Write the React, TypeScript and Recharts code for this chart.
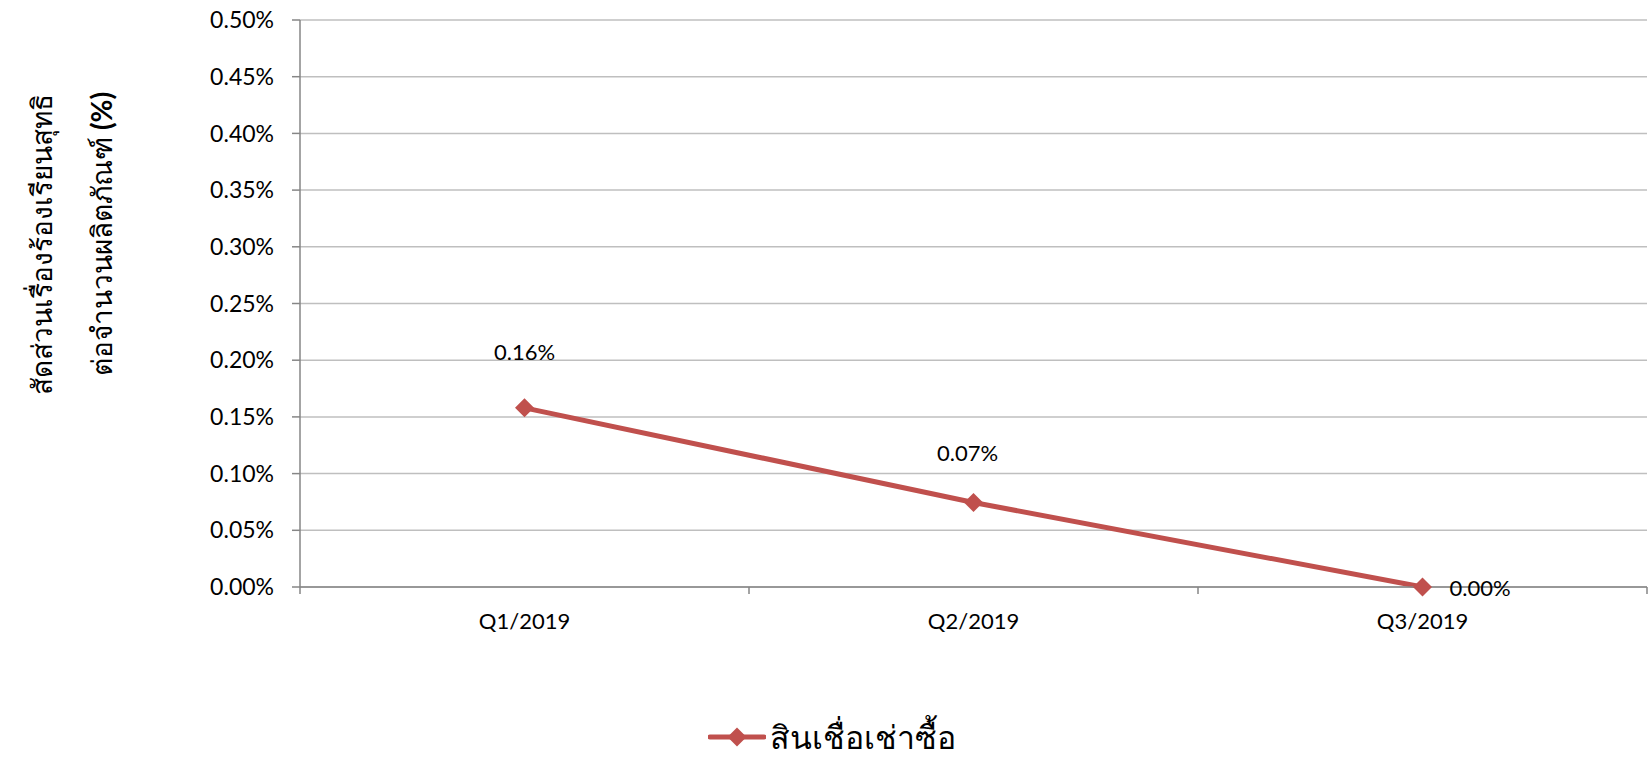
import React from 'react';
import { CartesianGrid, LabelList, Legend, Line, LineChart, XAxis, YAxis } from 'recharts';

const quarters = ['Q1/2019', 'Q2/2019', 'Q3/2019'];
const ratioValues = [0.00158, 0.000745, 0];
const valueLabels = ['0.16%', '0.07%', '0.00%'];
const yTicks = [0, 0.0005, 0.001, 0.0015, 0.002, 0.0025, 0.003, 0.0035, 0.004, 0.0045, 0.005];
const seriesName = 'สินเชื่อเช่าซื้อ';
const titleLine1 = 'สัดส่วนเรื่องร้องเรียนสุทธิ';
const titleLine2 = 'ต่อจำนวนผลิตภัณฑ์';

const W = 1651;
const H = 767;
const RED = '#C0504D';
const AXIS = '#868686';
const GRID = '#BFBFBF';
const FONT = "Lato, 'Open Sans', sans-serif";

// label placement relative to each point (Excel put them by hand)
const labelOffsets = [
  { dx: 0, dy: -56, anchor: 'middle' },
  { dx: -6, dy: -50, anchor: 'middle' },
  { dx: 27, dy: 0, anchor: 'start' },
];

const data = quarters.map((q, i) => ({
  pos: i + 0.5,
  quarter: q,
  value: ratioValues[i],
  label: valueLabels[i],
}));

const xTicks = [0, 0.5, 1, 1.5, 2, 2.5, 3];

const XTick = (props: any) => {
  const { x, y, payload } = props;
  const v = payload.value;
  if (Number.isInteger(v)) {
    return <line x1={x} y1={y} x2={x} y2={y + 7} stroke={AXIS} strokeWidth={1.5} />;
  }
  return (
    <text x={x} y={y + 42} textAnchor="middle" fontSize={22} fontFamily={FONT} fill="#000">
      {quarters[Math.floor(v)]}
    </text>
  );
};

const Diamond = (props: any) => {
  const { cx, cy } = props;
  if (cx == null || cy == null) return null;
  const r = 9.5;
  return (
    <polygon
      points={`${cx},${cy - r} ${cx + r},${cy} ${cx},${cy + r} ${cx - r},${cy}`}
      fill={RED}
    />
  );
};

const PointLabel = (props: any) => {
  const { x, y, index, value } = props;
  const o = labelOffsets[index] || labelOffsets[0];
  return (
    <text
      x={x + o.dx}
      y={y + o.dy}
      textAnchor={o.anchor}
      dominantBaseline="central"
      fontSize={22}
      fontFamily={FONT}
      fill="#000"
    >
      {value}
    </text>
  );
};

const LegendBox = () => (
  <div style={{ display: 'flex', justifyContent: 'center', alignItems: 'center' }}>
    <svg width={58} height={24} style={{ marginRight: 4 }}>
      <line x1={2} y1={12} x2={56} y2={12} stroke={RED} strokeWidth={5} strokeLinecap="round" />
      <polygon points="29,2.5 38.5,12 29,21.5 19.5,12" fill={RED} />
    </svg>
    <span style={{ fontSize: 32, fontFamily: FONT, color: '#000', lineHeight: '30px' }}>{seriesName}</span>
  </div>
);

const titleStyle: React.CSSProperties = {
  position: 'absolute',
  transform: 'translate(-50%, -50%) rotate(-90deg)',
  whiteSpace: 'nowrap',
  fontSize: 28,
  fontFamily: FONT,
  color: '#000',
};

export default function App() {
  return (
    <div style={{ position: 'relative', width: W, height: H, background: '#fff', overflow: 'hidden' }}>
      <style>{'body{margin:0}'}</style>
      <LineChart
        width={W}
        height={H}
        data={data}
        margin={{ top: 20, right: 4, bottom: 120, left: 0 }}
      >
        <CartesianGrid vertical={false} stroke={GRID} strokeWidth={1.5} />
        <XAxis
          dataKey="pos"
          type="number"
          domain={[0, 3]}
          ticks={xTicks}
          interval={0}
          tick={<XTick />}
          tickLine={false}
          tickSize={0}
          tickMargin={0}
          axisLine={{ stroke: AXIS, strokeWidth: 1.5 }}
          height={60}
        />
        <YAxis
          domain={[0, 0.005]}
          ticks={yTicks}
          interval={0}
          width={300}
          tickFormatter={(v: number) => `${(v * 100).toFixed(2)}%`}
          tick={{ fontSize: 23, fontFamily: FONT, fill: '#000' }}
          tickSize={8}
          tickMargin={18}
          tickLine={{ stroke: AXIS, strokeWidth: 1.5 }}
          axisLine={{ stroke: AXIS, strokeWidth: 1.5 }}
        />
        <Legend
          verticalAlign="middle"
          align="center"
          content={<LegendBox />}
          wrapperStyle={{ left: 6, width: W, top: 722 }}
        />
        <Line
          type="linear"
          dataKey="value"
          name={seriesName}
          stroke={RED}
          strokeWidth={5}
          dot={<Diamond />}
          activeDot={false}
          isAnimationActive={false}
        >
          <LabelList dataKey="label" content={<PointLabel />} />
        </Line>
      </LineChart>
      <div style={{ ...titleStyle, left: 42, top: 244 }}>{titleLine1}</div>
      <div style={{ ...titleStyle, left: 102, top: 234 }}>
        {titleLine2} <b>(%)</b>
      </div>
    </div>
  );
}
